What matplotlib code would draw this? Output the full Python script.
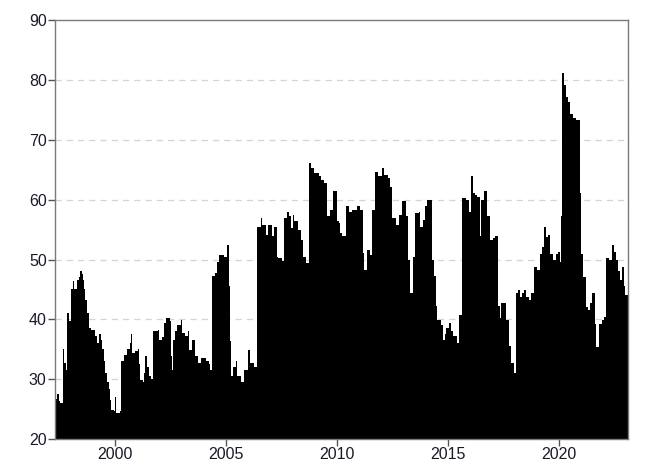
import numpy as np
import matplotlib
matplotlib.use("Agg")
import matplotlib.pyplot as plt

# break points (decimal year, level)
years = [1997.27, 1997.37, 1997.45, 1997.52, 1997.64, 1997.70, 1997.76, 1997.82, 1997.90,
         1998.02, 1998.07, 1998.13, 1998.27, 1998.35, 1998.42, 1998.48, 1998.53, 1998.60,
         1998.65, 1998.72, 1998.80, 1998.92, 1999.07, 1999.15, 1999.25, 1999.35, 1999.40,
         1999.47, 1999.52, 1999.62, 1999.70, 1999.76, 1999.82, 1999.93, 2000.00, 2000.04,
         2000.20, 2000.27, 2000.38, 2000.53, 2000.68, 2000.72, 2000.75, 2000.90, 2001.02,
         2001.08, 2001.13, 2001.23, 2001.30, 2001.35, 2001.42, 2001.50, 2001.60, 2001.68,
         2001.90, 2001.98, 2002.10, 2002.18, 2002.30, 2002.45, 2002.50, 2002.56, 2002.60,
         2002.70, 2002.79, 2002.95, 2003.01, 2003.13, 2003.28, 2003.31, 2003.47, 2003.58,
         2003.73, 2003.85, 2004.06, 2004.20, 2004.25, 2004.36, 2004.48, 2004.58, 2004.66,
         2004.90, 2005.05, 2005.14, 2005.18, 2005.23, 2005.30, 2005.45, 2005.50, 2005.65,
         2005.80, 2005.98, 2006.06, 2006.25, 2006.37, 2006.55, 2006.61, 2006.80, 2006.88,
         2007.06, 2007.15, 2007.26, 2007.33, 2007.51, 2007.59, 2007.72, 2007.83, 2007.90,
         2008.01, 2008.05, 2008.23, 2008.35, 2008.47, 2008.58, 2008.73, 2008.83, 2008.95,
         2009.18, 2009.28, 2009.41, 2009.55, 2009.68, 2009.82, 2009.98, 2010.08, 2010.13,
         2010.23, 2010.38, 2010.53, 2010.68, 2010.88, 2011.03, 2011.16, 2011.21, 2011.33,
         2011.48, 2011.58, 2011.69, 2011.84, 2011.99, 2012.08, 2012.26, 2012.38, 2012.48,
         2012.64, 2012.79, 2012.91, 2013.10, 2013.20, 2013.28, 2013.40, 2013.51, 2013.66,
         2013.73, 2013.85, 2013.96, 2014.06, 2014.26, 2014.36, 2014.45, 2014.51, 2014.66,
         2014.75, 2014.86, 2014.90, 2015.01, 2015.11, 2015.23, 2015.39, 2015.48, 2015.61,
         2015.80, 2015.91, 2016.02, 2016.11, 2016.21, 2016.31, 2016.44, 2016.48, 2016.62,
         2016.74, 2016.86, 2017.00, 2017.11, 2017.23, 2017.34, 2017.38, 2017.61, 2017.71,
         2017.82, 2017.94, 2018.06, 2018.13, 2018.21, 2018.31, 2018.40, 2018.51, 2018.63,
         2018.73, 2018.85, 2018.99, 2019.11, 2019.23, 2019.29, 2019.38, 2019.49, 2019.59,
         2019.71, 2019.83, 2019.94, 2020.01, 2020.09, 2020.13, 2020.19, 2020.28, 2020.39,
         2020.49, 2020.61, 2020.76, 2020.91, 2020.96, 2021.06, 2021.18, 2021.29, 2021.39,
         2021.48, 2021.59, 2021.66, 2021.78, 2021.93, 2022.02, 2022.11, 2022.26, 2022.37,
         2022.45, 2022.54, 2022.64, 2022.74, 2022.82, 2022.90, 2022.98, 2023.10]
levels = [26.6, 27.5, 26.3, 26.0, 35.0, 32.7, 31.6, 41.0, 39.7,
          45.0, 46.4, 45.0, 46.6, 47.0, 48.0, 47.5, 46.6, 45.0,
          43.3, 41.0, 38.6, 38.3, 37.2, 36.0, 37.5, 36.5, 35.0,
          33.0, 31.0, 29.5, 28.3, 26.5, 24.9, 24.6, 27.1, 24.4,
          24.6, 33.0, 34.1, 35.0, 36.0, 37.5, 34.4, 34.7, 35.0,
          32.5, 29.9, 29.6, 31.0, 33.8, 32.0, 30.5, 30.0, 38.0,
          38.2, 36.6, 37.0, 39.4, 40.2, 39.8, 33.8, 31.6, 36.6,
          38.0, 39.1, 39.9, 37.7, 37.2, 38.0, 34.9, 36.6, 33.8,
          32.7, 33.5, 33.0, 32.5, 31.6, 47.2, 47.7, 49.5, 50.8,
          50.5, 52.5, 45.5, 36.3, 30.5, 32.1, 33.0, 30.5, 29.6,
          31.6, 34.9, 32.7, 32.1, 55.5, 56.9, 55.8, 54.1, 55.8,
          53.9, 55.4, 50.5, 50.2, 49.7, 56.9, 58.0, 57.2, 55.2,
          57.5, 56.4, 55.0, 53.3, 50.5, 49.4, 66.1, 65.3, 64.4,
          63.9, 63.3, 62.8, 57.2, 58.3, 61.4, 56.4, 56.1, 54.4,
          53.9, 58.9, 58.0, 58.3, 58.9, 58.3, 51.1, 48.3, 51.6,
          50.8, 58.3, 64.7, 63.9, 65.3, 64.2, 63.6, 62.2, 56.9,
          55.8, 57.5, 59.7, 57.2, 50.0, 44.4, 50.5, 57.8, 58.0,
          55.5, 56.6, 58.9, 60.0, 50.0, 47.2, 42.2, 39.9, 39.1,
          36.6, 37.5, 38.5, 39.4, 38.0, 37.2, 36.0, 40.8, 60.3,
          60.0, 58.0, 63.9, 61.1, 60.8, 60.5, 53.9, 60.0, 61.4,
          57.2, 53.3, 53.6, 53.9, 42.2, 40.2, 42.7, 39.9, 35.5,
          32.7, 31.0, 44.4, 44.9, 43.8, 44.4, 44.9, 43.8, 43.2,
          44.4, 48.8, 48.2, 51.0, 52.1, 55.5, 53.8, 54.1, 51.0,
          49.9, 51.0, 51.3, 49.6, 57.2, 81.1, 79.2, 77.2, 76.4,
          74.4, 73.6, 73.3, 61.1, 51.0, 47.1, 42.1, 41.6, 42.7,
          44.4, 39.3, 35.4, 39.3, 39.9, 40.4, 50.2, 49.9, 52.4,
          51.3, 49.9, 48.0, 46.6, 48.8, 45.5, 44.1, 43.8]
end_year = 2023.15

xticks = [2000, 2005, 2010, 2015, 2020]
yticks = [20, 30, 40, 50, 60, 70, 80, 90]

plt.rcParams['font.family'] = ['Liberation Sans', 'DejaVu Sans']

fig = plt.figure(figsize=(6.55, 4.70), dpi=100)
ax = fig.add_axes([0.084, 0.066, 0.875, 0.891])

for g in yticks[1:-1]:
    ax.axhline(g, color='#d4d4d4', lw=0.9, ls=(0, (5, 4)), zorder=0)

xs = years + [end_year]
ys = levels + [levels[-1]]
ax.fill_between(xs, 20, ys, step='post', color='black', lw=0, zorder=2)

ax.set_xlim(1997.28, 2023.1)
ax.set_ylim(20, 90)
ax.set_xticks(xticks)
ax.set_yticks(yticks)

for s in ax.spines.values():
    s.set_color('#7a7a7a')
    s.set_linewidth(1.0)
ax.tick_params(direction='out', length=5, width=1, color='#555555',
               labelsize=11.5, labelcolor='#1a1a2a', pad=1)

fig.savefig('out.png', dpi=100)
